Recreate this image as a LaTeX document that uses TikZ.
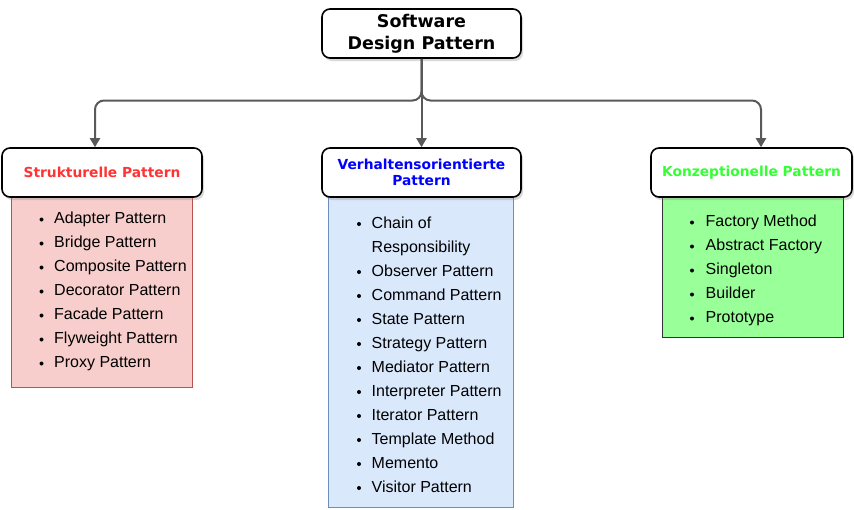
\documentclass[tikz,border=0pt]{standalone}
\usepackage{fontspec}
\setmainfont{Liberation Sans}
\newfontfamily\headfont{DejaVu Sans}
\usetikzlibrary{arrows.meta,shadows,positioning}

\definecolor{StructRed}{HTML}{FF3333}
\definecolor{BehavBlue}{HTML}{0000FF}
\definecolor{ConcGreen}{HTML}{33FF33}
\definecolor{StructFill}{HTML}{F8CECC}
\definecolor{StructLine}{HTML}{B85450}
\definecolor{BehavFill}{HTML}{DAE8FC}
\definecolor{BehavLine}{HTML}{6C8EBF}
\definecolor{ConcFill}{HTML}{99FF99}
\definecolor{LineGray}{HTML}{595959}

\tikzset{
	head/.style={draw=black, line width=1.6pt, rounded corners=8pt, fill=white,
		minimum width=199pt, minimum height=49pt, align=center, inner sep=0pt,
		font=\headfont\bfseries\fontsize{13.8}{16}\selectfont,
		drop shadow={shadow xshift=2pt, shadow yshift=-3pt, opacity=0.3}},
	listbox/.style={line width=0.8pt, anchor=north west, inner sep=0pt},
	conn/.style={draw=LineGray, line width=2pt, rounded corners=9pt,
		-{Triangle[length=9pt,width=10pt]}},
	item/.style={anchor=base west, inner sep=0pt, font=\fontsize{16}{19}\selectfont},
	dot/.style={circle, fill=black, inner sep=0pt, minimum size=4pt}
}

\begin{document}
\begin{tikzpicture}[x=1pt,y=-1pt]
	\useasboundingbox (0,0) rectangle (854,509);

	% list boxes
	\node (StructList) [listbox, draw=StructLine, fill=StructFill,
		minimum width=181pt, minimum height=197pt] at (11,190) {};
	\node (BehavList) [listbox, draw=BehavLine, fill=BehavFill,
		minimum width=185pt, minimum height=317pt] at (328,190) {};
	\node (ConcList) [listbox, draw=black!80, fill=ConcFill,
		minimum width=181pt, minimum height=147pt] at (662,190) {};

	% headers
	\node (Root) [head, font=\headfont\bfseries\fontsize{17.5}{21.5}\selectfont]
		at (421.5,33.5) {Software\\Design Pattern};
	\node (StructHead) [head, minimum width=200pt, text=StructRed]
		at (102,172.5) {Strukturelle Pattern};
	\node (BehavHead) [head, text=BehavBlue]
		at (421.5,172.5) {Verhaltensorientierte\\Pattern};
	\node (ConcHead) [head, minimum width=201pt, text=ConcGreen]
		at (751.5,172.5) {Konzeptionelle Pattern};

	% connectors
	\coordinate (Bus) at (421.5,100.5);
	\draw [conn] (Root.south) -- (Bus) -| ([xshift=-7pt]StructHead.north);
	\draw [conn] (Root.south) -- (BehavHead.north);
	\draw [conn] (Root.south) -- (Bus) -| ([xshift=9.5pt]ConcHead.north);

	% items
	\foreach \txt [count=\i] in {Adapter Pattern, Bridge Pattern, Composite Pattern,
		Decorator Pattern, Facade Pattern, Flyweight Pattern, Proxy Pattern}
	{
		\node (StructDot\i) [dot] at (41.5,219.5+24*\i-24) {};
		\node (StructItem\i) [item] at (54,223.5+24*\i-24) {\txt};
	}

	\node (BehavDot0) [dot] at (359,224) {};
	\node (BehavItem0) [item] at (371.5,228) {Chain of};
	\node (BehavItemR) [item] at (371.5,252) {Responsibility};
	\foreach \txt [count=\i] in {Observer Pattern, Command Pattern, State Pattern,
		Strategy Pattern, Mediator Pattern, Interpreter Pattern, Iterator Pattern,
		Template Method, Memento, Visitor Pattern}
	{
		\node (BehavDot\i) [dot] at (359,248+24*\i) {};
		\node (BehavItem\i) [item] at (371.5,252+24*\i) {\txt};
	}

	\foreach \txt [count=\i] in {Factory Method, Abstract Factory, Singleton,
		Builder, Prototype}
	{
		\node (ConcDot\i) [dot] at (692,222.5+24*\i-24) {};
		\node (ConcItem\i) [item] at (705.5,226.5+24*\i-24) {\txt};
	}
\end{tikzpicture}
\end{document}
